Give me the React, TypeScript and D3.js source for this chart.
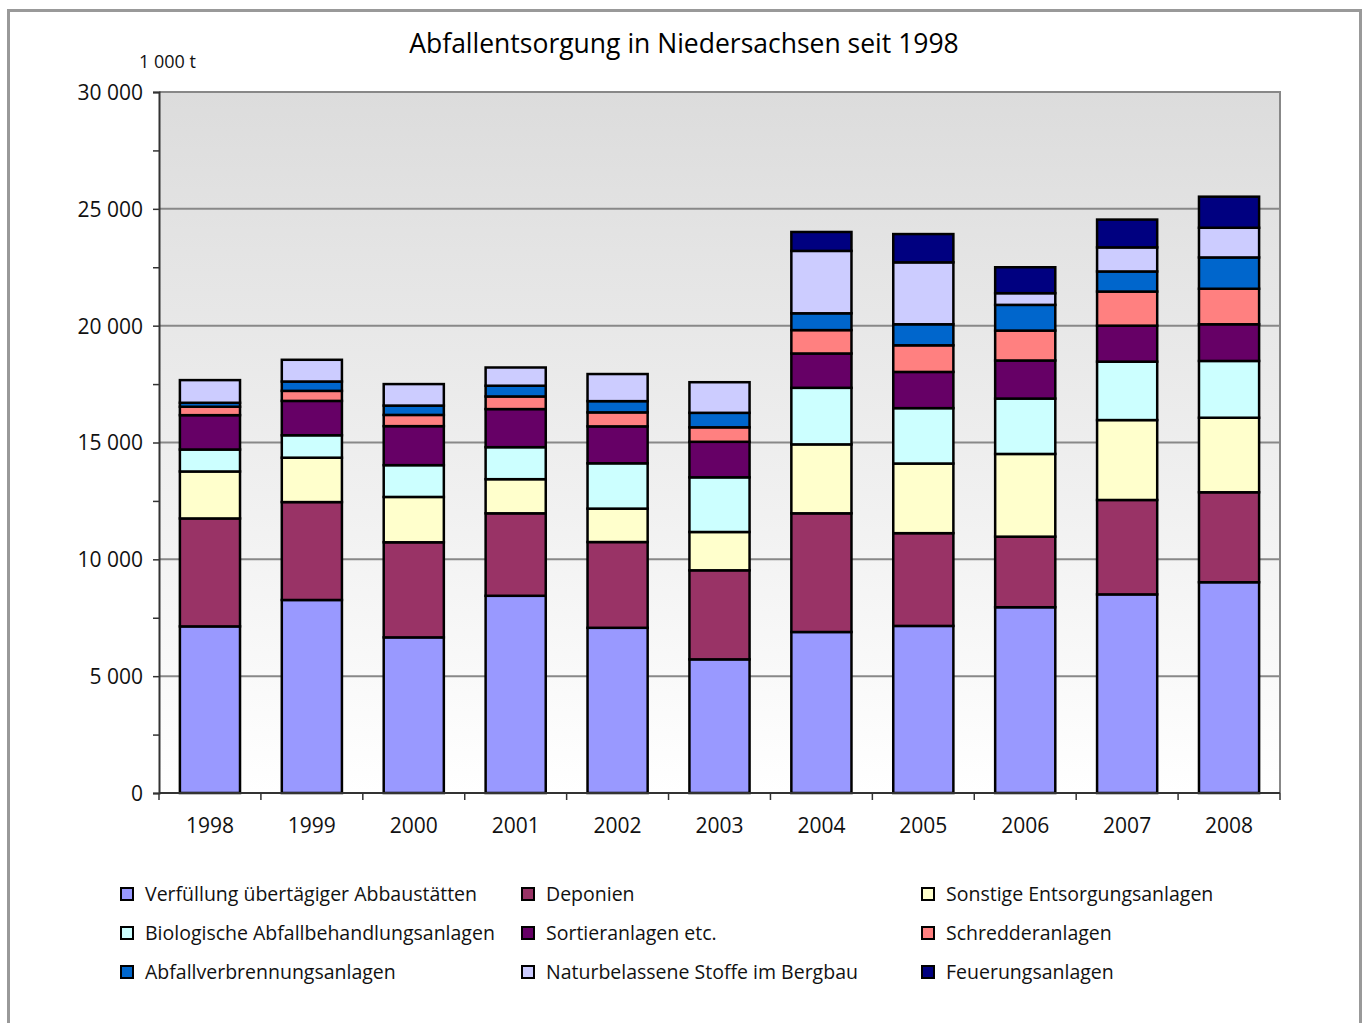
import React, { useEffect, useRef } from "react";
import * as d3 from "d3";

// Jahre
const years = ["1998", "1999", "2000", "2001", "2002", "2003", "2004", "2005", "2006", "2007", "2008"];

// Werte in 1 000 t, von unten nach oben gestapelt
const verfuellung = [7130, 8260, 6660, 8440, 7070, 5720, 6890, 7150, 7950, 8500, 9020];
const deponien = [4620, 4190, 4070, 3530, 3670, 3810, 5080, 3970, 3020, 4040, 3850];
const sonstige = [2010, 1900, 1940, 1460, 1430, 1640, 2950, 2980, 3540, 3420, 3190];
const biologische = [940, 960, 1360, 1370, 1940, 2340, 2420, 2370, 2370, 2500, 2430];
const sortier = [1470, 1470, 1670, 1630, 1580, 1520, 1470, 1550, 1630, 1540, 1570];
const schredder = [360, 430, 480, 540, 600, 620, 1000, 1140, 1280, 1460, 1520];
const verbrennung = [170, 400, 400, 460, 480, 620, 720, 900, 1100, 860, 1340];
const naturbelassen = [970, 930, 920, 780, 1160, 1310, 2670, 2650, 500, 1030, 1270];
const feuerung = [0, 0, 0, 0, 0, 0, 810, 1210, 1110, 1190, 1330];

const seriesNames = [
  "Verfüllung übertägiger Abbaustätten",
  "Deponien",
  "Sonstige Entsorgungsanlagen",
  "Biologische Abfallbehandlungsanlagen",
  "Sortieranlagen etc.",
  "Schredderanlagen",
  "Abfallverbrennungsanlagen",
  "Naturbelassene Stoffe im Bergbau",
  "Feuerungsanlagen",
];
const seriesValues = [verfuellung, deponien, sonstige, biologische, sortier, schredder, verbrennung, naturbelassen, feuerung];
const colors = ["#9999ff", "#993366", "#ffffcc", "#ccffff", "#660066", "#ff8080", "#0066cc", "#ccccff", "#000080"];

const yTicks = [0, 5000, 10000, 15000, 20000, 25000, 30000];

const W = 1367;
const H = 1023;
const FONT = "'Open Sans', 'Noto Sans', sans-serif";

export default function App() {
  const ref = useRef<SVGSVGElement>(null);

  useEffect(() => {
    const svg = d3.select(ref.current);
    svg.selectAll("*").remove();

    const m = { left: 159, right: 1280, top: 92, bottom: 793 };

    const rows = years.map((y, i) => {
      const r: any = { year: y };
      seriesNames.forEach((n, k) => (r[n] = seriesValues[k][i]));
      return r;
    });
    const stacked = d3.stack().keys(seriesNames)(rows);

    const x = d3.scaleBand().domain(years).range([m.left, m.right]).paddingInner(0.41).paddingOuter(0.205);
    const y = d3.scaleLinear().domain([0, 30000]).range([m.bottom, m.top]);

    // outer frame
    svg.append("rect")
      .attr("x", 8.5).attr("y", 10.5).attr("width", 1352).attr("height", 1030)
      .attr("fill", "white").attr("stroke", "#999").attr("stroke-width", 3);

    // plot background gradient
    const defs = svg.append("defs");
    const grad = defs.append("linearGradient").attr("id", "bg").attr("x1", 0).attr("y1", 0).attr("x2", 0).attr("y2", 1);
    grad.append("stop").attr("offset", "0%").attr("stop-color", "#dcdcdc");
    grad.append("stop").attr("offset", "100%").attr("stop-color", "#ffffff");

    svg.append("rect")
      .attr("x", m.left).attr("y", m.top)
      .attr("width", m.right - m.left).attr("height", m.bottom - m.top)
      .attr("fill", "url(#bg)");

    // gridlines
    svg.append("g").selectAll("line")
      .data(yTicks.filter((d) => d > 0))
      .enter().append("line")
      .attr("x1", m.left).attr("x2", m.right)
      .attr("y1", (d) => y(d)).attr("y2", (d) => y(d))
      .attr("stroke", "#888").attr("stroke-width", 2);

    // right border
    svg.append("line")
      .attr("x1", m.right).attr("x2", m.right).attr("y1", m.top - 1).attr("y2", m.bottom)
      .attr("stroke", "#888").attr("stroke-width", 2);

    // bars
    svg.append("g").selectAll("g")
      .data(stacked)
      .enter().append("g")
      .attr("fill", (d, i) => colors[i])
      .selectAll("rect")
      .data((d) => d.filter((p) => p[1] - p[0] > 0))
      .enter().append("rect")
      .attr("x", (d: any) => x(d.data.year)!)
      .attr("width", x.bandwidth())
      .attr("y", (d) => y(d[1]))
      .attr("height", (d) => y(d[0]) - y(d[1]))
      .attr("stroke", "#000").attr("stroke-width", 2.5);

    // y axis
    const yAxis = d3.axisLeft(y)
      .tickValues(d3.range(0, 30001, 2500))
      .tickSize(6)
      .tickPadding(10)
      .tickFormat((d: any) => (d % 5000 === 0 ? d3.format(",")(d).replace(",", " ") : ""));
    const gy = svg.append("g").attr("transform", `translate(${m.left},0)`).call(yAxis);
    gy.select(".domain").attr("stroke", "#333").attr("stroke-width", 2);
    gy.selectAll(".tick line").attr("stroke", "#333").attr("stroke-width", 1.5);
    gy.selectAll("text").attr("font-family", FONT).attr("font-size", 21).attr("fill", "#111").attr("dy", "0.35em");

    // x axis
    const gx = svg.append("g").attr("transform", `translate(0,${m.bottom})`);
    gx.append("line").attr("x1", m.left).attr("x2", m.right).attr("y1", 0).attr("y2", 0)
      .attr("stroke", "#333").attr("stroke-width", 2);
    gx.selectAll("line.tk")
      .data(d3.range(years.length + 1))
      .enter().append("line").attr("class", "tk")
      .attr("x1", (i) => m.left + (i * (m.right - m.left)) / years.length)
      .attr("x2", (i) => m.left + (i * (m.right - m.left)) / years.length)
      .attr("y1", 0).attr("y2", 7)
      .attr("stroke", "#333").attr("stroke-width", 1.5);
    gx.selectAll("text")
      .data(years)
      .enter().append("text")
      .attr("x", (d) => x(d)! + x.bandwidth() / 2)
      .attr("y", 40)
      .attr("text-anchor", "middle")
      .attr("font-family", FONT).attr("font-size", 21).attr("fill", "#111")
      .text((d) => d);

    // title and unit
    svg.append("text")
      .attr("x", 684).attr("y", 53).attr("text-anchor", "middle")
      .attr("font-family", FONT).attr("font-size", 26.5).attr("fill", "#000")
      .text("Abfallentsorgung in Niedersachsen seit 1998");
    svg.append("text")
      .attr("x", 139).attr("y", 68)
      .attr("font-family", FONT).attr("font-size", 18).attr("fill", "#111")
      .text("1 000 t");

    // legend
    const colX = [120, 521, 921];
    const rowY = [894, 933, 972];
    const lg = svg.append("g").selectAll("g")
      .data(seriesNames)
      .enter().append("g")
      .attr("transform", (d, i) => `translate(${colX[i % 3]},${rowY[Math.floor(i / 3)]})`);
    lg.append("rect")
      .attr("x", 1).attr("y", -6).attr("width", 12).attr("height", 12)
      .attr("fill", (d, i) => colors[i]).attr("stroke", "#000").attr("stroke-width", 2);
    lg.append("text")
      .attr("x", 25).attr("y", 0).attr("dy", "0.35em")
      .attr("font-family", FONT).attr("font-size", 19.5).attr("fill", "#111")
      .text((d) => d);
  }, []);

  return <svg ref={ref} width={W} height={H} style={{ display: "block", position: "absolute", left: 0, top: 0 }} />;
}
